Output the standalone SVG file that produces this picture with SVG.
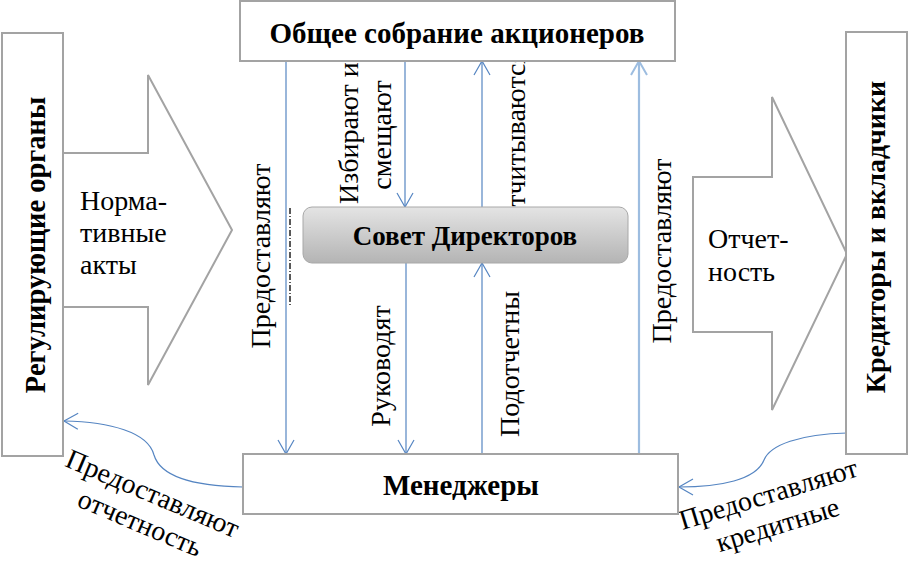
<svg xmlns="http://www.w3.org/2000/svg" width="909" height="580" viewBox="0 0 909 580">
<style>
.box{fill:#fff;stroke:#a3a3a3;stroke-width:2}
.barrow{fill:#fff;stroke:#a3a3a3;stroke-width:2}
.conn{fill:none;stroke:#5585c2;stroke-width:1.2}
.connl{fill:none;stroke:#9dbde0;stroke-width:2.2}
</style>
<defs>
<marker id="ah" markerUnits="userSpaceOnUse" markerWidth="20" markerHeight="20" viewBox="-16 -10 18 20" refX="0" refY="0" orient="auto">
<path d="M-14,-8 L0,0 L-14,8" fill="none" stroke="#5585c2" stroke-width="1.2"/>
</marker>
<marker id="ahl" markerUnits="userSpaceOnUse" markerWidth="20" markerHeight="20" viewBox="-16 -10 18 20" refX="0" refY="0" orient="auto">
<path d="M-14,-8 L0,0 L-14,8" fill="none" stroke="#9dbde0" stroke-width="2"/>
</marker>
<linearGradient id="gsd" x1="0" y1="0" x2="0" y2="1">
<stop offset="0" stop-color="#e4e4e4"/>
<stop offset="1" stop-color="#b4b4b4"/>
</linearGradient>
</defs>

<g id="arrow-norm" font-family="Liberation Serif, serif" font-size="28">
<polygon class="barrow" points="63,153 148,153 148,75 232,230 148,385 148,307 63,307"/>
<text x="80" y="210">Норма-</text>
<text x="80" y="242">тивные</text>
<text x="80" y="274">акты</text>
</g>
<g id="arrow-report" font-family="Liberation Serif, serif" font-size="28">
<polygon class="barrow" points="693,177 772,177 772,97 847,254 772,410 772,332 693,332"/>
<text x="708" y="248">Отчет-</text>
<text x="708" y="281">ность</text>
</g>

<g id="labels" font-family="Liberation Serif, serif" font-size="28">
<text text-anchor="middle" transform="translate(270,256) rotate(-90)">Предоставляют</text>
<text text-anchor="start" transform="translate(358,204) rotate(-90)">Избирают и</text>
<text text-anchor="middle" transform="translate(391,135) rotate(-90)">смещают</text>
<text text-anchor="start" transform="translate(525,227) rotate(-90)">Отчитываются</text>
<text text-anchor="middle" transform="translate(390,366) rotate(-90)">Руководят</text>
<text text-anchor="middle" transform="translate(519,364) rotate(-90)">Подотчетны</text>
<text text-anchor="middle" transform="translate(671,251) rotate(-90)">Предоставляют</text>
<g transform="translate(149,502) rotate(23)">
<text text-anchor="middle" x="0" y="0">Предоставляют</text>
<text text-anchor="middle" x="0" y="32">отчетность</text>
</g>
<g transform="translate(771,503) rotate(-17)">
<text text-anchor="middle" x="0" y="0">Предоставляют</text>
<text text-anchor="middle" x="0" y="32">кредитные</text>
</g>
</g>

<g id="connectors">
<line class="conn" x1="286" y1="61" x2="286" y2="454" marker-end="url(#ah)"/>
<line class="conn" x1="405" y1="61" x2="405" y2="207" marker-end="url(#ah)"/>
<line class="conn" x1="482" y1="207" x2="482" y2="61" marker-end="url(#ah)"/>
<line class="connl" x1="639" y1="454" x2="639" y2="61" marker-end="url(#ahl)"/>
<line class="conn" x1="406" y1="263" x2="406" y2="454" marker-end="url(#ah)"/>
<line class="conn" x1="482" y1="454" x2="482" y2="263" marker-end="url(#ah)"/>
<path class="conn" d="M243,487 C190,486 160,475 154,455 C148,432 110,422 64,421" marker-end="url(#ah)"/>
<path class="conn" d="M847,433 C800,434 770,445 764,460 C756,480 720,487 679,487" marker-end="url(#ah)"/>
<line x1="290" y1="208" x2="290" y2="307" stroke="#222" stroke-width="1.5" stroke-dasharray="6 2 1 2"/>
</g>

<g id="node-regul" font-family="Liberation Serif, serif" font-size="28.5" font-weight="bold">
<rect class="box" x="2" y="33" width="61" height="423"/>
<text text-anchor="middle" transform="translate(45,245) rotate(-90)">Регулирующие органы</text>
</g>
<g id="node-kredit" font-family="Liberation Serif, serif" font-size="28" font-weight="bold">
<rect class="box" x="846" y="32" width="61" height="422"/>
<text text-anchor="middle" transform="translate(885,237) rotate(-90)">Кредиторы и вкладчики</text>
</g>
<g id="node-sobranie" font-family="Liberation Serif, serif" font-size="29" font-weight="bold">
<rect class="box" x="240" y="1" width="435" height="60"/>
<text text-anchor="middle" x="457" y="43">Общее собрание акционеров</text>
</g>
<g id="node-sovet" font-family="Liberation Serif, serif" font-size="27" font-weight="bold">
<rect x="303" y="207" width="325" height="56" rx="9" ry="9" fill="url(#gsd)" stroke="#a8a8a8" stroke-width="1"/>
<text text-anchor="middle" x="465" y="245">Совет Директоров</text>
</g>
<g id="node-manager" font-family="Liberation Serif, serif" font-size="29" font-weight="bold">
<rect class="box" x="243" y="454" width="435" height="60"/>
<text text-anchor="middle" x="461" y="495">Менеджеры</text>
</g>
</svg>
